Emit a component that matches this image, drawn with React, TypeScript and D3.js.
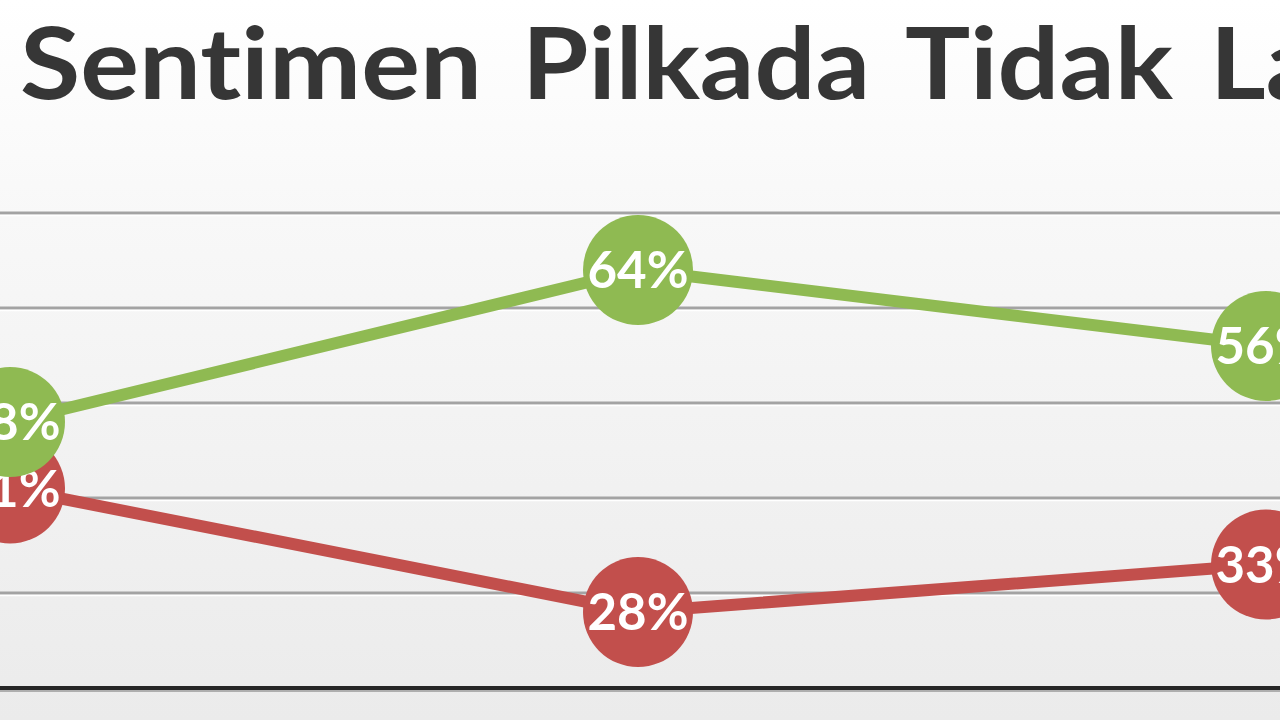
import React from 'react'
import { scaleLinear, scalePoint, line } from 'd3'

const periods = ['P1', 'P2', 'P3']
const positive = [48, 64, 56]
const negative = [41, 28, 33]
const gridTicks = [20, 30, 40, 50, 60, 70]
const titleWords = ['Sentimen', 'Pilkada', 'Tidak', 'La']

const W = 1280
const H = 720

const GREEN = '#8fba52'
const RED = '#c24f4c'

export default function App() {
  const x = scalePoint<string>().domain(periods).range([10, 1266])
  const y = scaleLinear().domain([20, 70]).range([688, 213])

  const mk = (vals: number[]) =>
    line<number>()
      .x((_, i) => x(periods[i]) as number)
      .y((d) => y(d))(vals) || ''

  const series = [
    { vals: negative, color: RED },
    { vals: positive, color: GREEN }
  ]

  // word start positions
  const wordX = [20, 522, 905, 1210]
  const wordLen = [462, 348, 268, 110]

  return (
    <div style={{ position: 'fixed', left: 0, top: 0, width: W, height: H, overflow: 'hidden' }}>
      <svg width={W} height={H} style={{ display: 'block' }}>
        <defs>
          <linearGradient id="bg" x1={0} x2={0} y1={0} y2={1}>
            <stop offset="0%" stopColor="#ffffff" />
            <stop offset="30%" stopColor="#f8f8f8" />
            <stop offset="100%" stopColor="#ebebeb" />
          </linearGradient>
        </defs>
        <rect width={W} height={H} fill="url(#bg)" />

        <g className="title" fontFamily="Lato, 'Open Sans', sans-serif" fontWeight={700} fontSize={99} fill="#363636">
          {titleWords.map((w, i) => (
            <text
              key={w}
              x={wordX[i]}
              y={99}
              textLength={wordLen[i]}
              lengthAdjust="spacingAndGlyphs"
              style={{ fontVariantLigatures: 'none' }}
            >
              {w}
            </text>
          ))}
        </g>

        <g className="grid">
          {gridTicks.map((t, i) =>
            i === 0 ? (
              <g key={t}>
                <line x1={0} x2={W} y1={y(t)} y2={y(t)} stroke="#262626" strokeWidth={4} />
                <line x1={0} x2={W} y1={y(t) + 3} y2={y(t) + 3} stroke="#9a9a9a" strokeWidth={1.5} />
              </g>
            ) : (
              <g key={t}>
                <line x1={0} x2={W} y1={y(t)} y2={y(t)} stroke="#a3a3a3" strokeWidth={3} />
                <line x1={0} x2={W} y1={y(t) + 2.5} y2={y(t) + 2.5} stroke="#ffffff" strokeWidth={1.5} />
              </g>
            )
          )}
        </g>

        {series.map((s) => (
          <g key={s.color}>
            <path d={mk(s.vals)} fill="none" stroke={s.color} strokeWidth={12} strokeLinejoin="round" />
          </g>
        ))}
        {series.map((s) => (
          <g key={s.color + 'm'}>
            {s.vals.map((v, i) => (
              <g key={i} transform={`translate(${x(periods[i])},${y(v)})`}>
                <circle r={55} fill={s.color} />
                <text
                  textAnchor="middle"
                  dy={18}
                  fill="#ffffff"
                  fontFamily="Lato, 'Open Sans', sans-serif"
                  fontWeight={700}
                  fontSize={51}
                >
                  {v}%
                </text>
              </g>
            ))}
          </g>
        ))}
      </svg>
    </div>
  )
}
